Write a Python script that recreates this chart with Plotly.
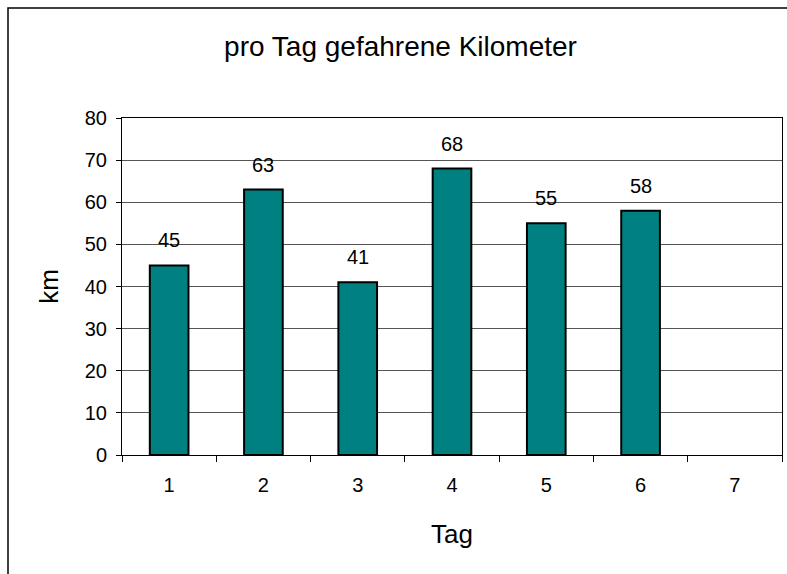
import plotly.graph_objects as go

tage = ["1", "2", "3", "4", "5", "6", "7"]
kilometer = [45, 63, 41, 68, 55, 58, None]
y_ticks = [0, 10, 20, 30, 40, 50, 60, 70, 80]

W, H = 787, 574
L, R, T, B = 122, 5, 118, 119

FONT = "Liberation Sans, Arial, sans-serif"

fig = go.Figure()
fig.add_trace(go.Bar(
    x=tage, y=kilometer,
    marker=dict(color="#008080", line=dict(color="black", width=2)),
    width=0.41,
    hoverinfo="x+y",
))

for i, yv in enumerate(kilometer):
    if yv is None:
        continue
    fig.add_annotation(x=i, y=yv, text=str(yv), showarrow=False,
                       xref="x", yref="y",
                       yanchor="middle", yshift=25,
                       font=dict(family=FONT, size=20, color="black"))

pw = W - L - R
ph = H - T - B
# outer chart border
fig.add_shape(type="rect", xref="paper", yref="paper",
              x0=(8 - L) / pw, x1=(W + 5 - L) / pw,
              y0=-(H + 5 - (T + ph)) / ph, y1=((T + ph) - 8) / ph,
              line=dict(color="black", width=1.5), layer="below")

fig.update_layout(
    width=W, height=H,
    margin=dict(l=L, r=R, t=T, b=B),
    paper_bgcolor="white", plot_bgcolor="white",
    showlegend=False,
    title=dict(text="pro Tag gefahrene Kilometer", x=400.5 / W, xanchor="center",
               y=1 - 46 / H, yanchor="middle", xref="container", yref="container",
               font=dict(family=FONT, size=28, color="black")),
    font=dict(family=FONT, color="black"),
)
fig.update_xaxes(
    type="category", categoryorder="array", categoryarray=tage,
    range=[-0.5, 6.5],
    showline=True, linecolor="black", linewidth=1, mirror=True,
    ticks="outside", tickson="boundaries", ticklen=6, tickcolor="black",
    tickfont=dict(family=FONT, size=20, color="black"),
    ticklabelstandoff=12,
    showgrid=False,
    title=dict(text="Tag", font=dict(family=FONT, size=26, color="black"), standoff=29),
)
fig.update_yaxes(
    range=[0, 80], tickvals=y_ticks, ticktext=[str(v) for v in y_ticks],
    showline=True, linecolor="black", linewidth=1, mirror=True,
    ticks="outside", ticklen=5, tickcolor="black",
    tickfont=dict(family=FONT, size=20, color="black"),
    ticklabelstandoff=5,
    showgrid=True, gridcolor="#555555", gridwidth=1,
    zeroline=False,
    title=dict(text="km", font=dict(family=FONT, size=26, color="black"), standoff=18),
)

fig.write_html(
    "out.html",
    config={"displayModeBar": False},
    post_script="document.body.style.margin='0';document.body.style.overflow='hidden';",
)
